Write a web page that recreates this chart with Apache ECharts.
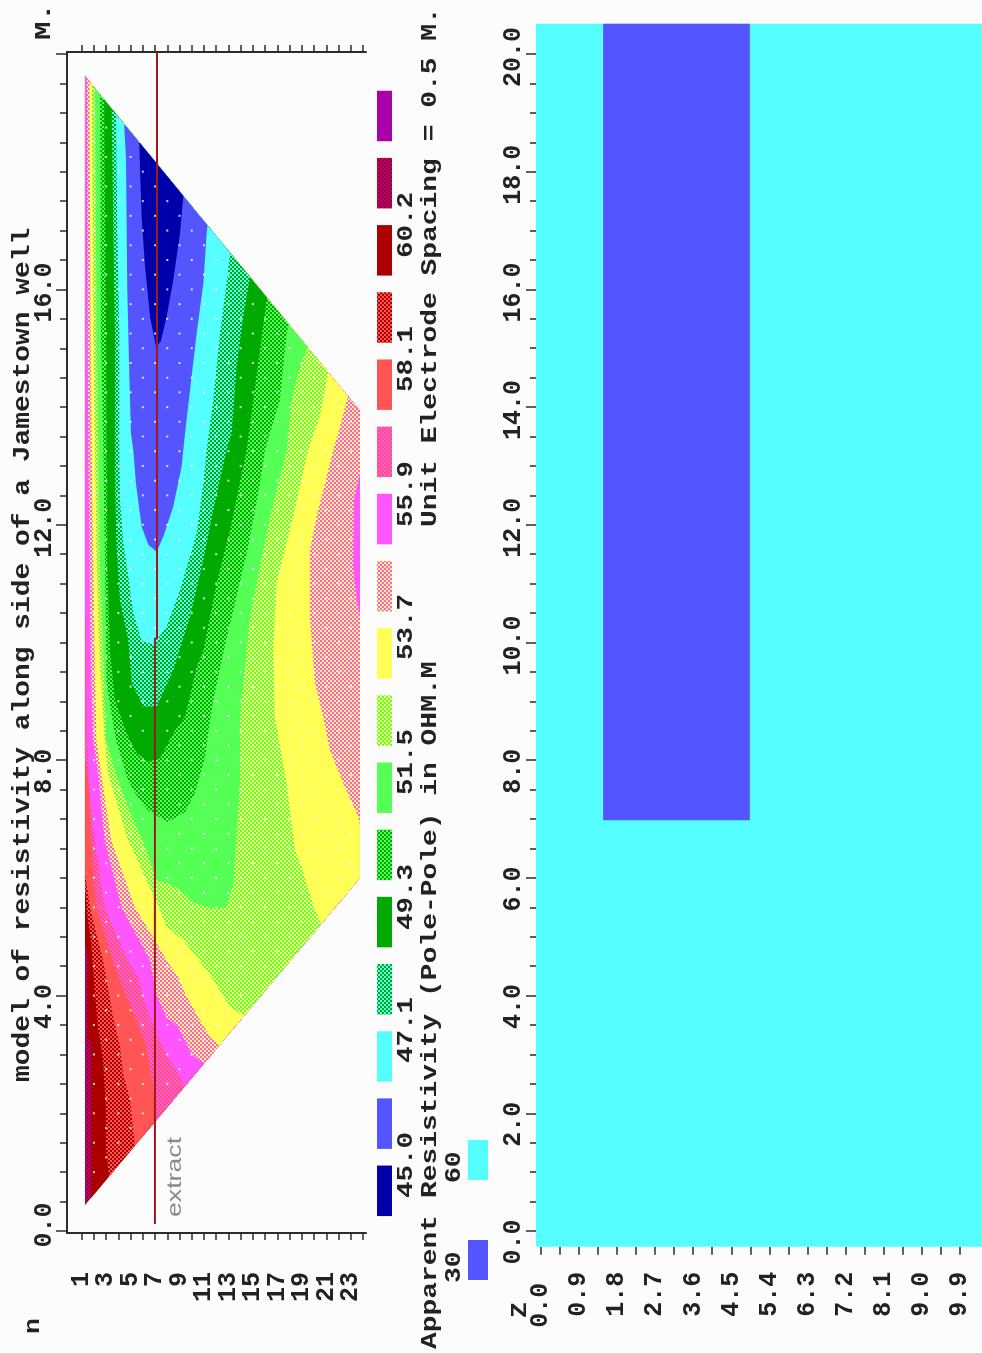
<!DOCTYPE html>
<html><head><meta charset="utf-8">
<style>html,body{margin:0;padding:0;background:#fcfcfc}#c{width:982px;height:1353px}</style>
<script src="https://cdn.jsdelivr.net/npm/echarts@6/dist/echarts.min.js"></script>
</head><body><div id="c"></div>
<script>
// ---------- axis values ----------
const nTicks = [1,2,3,4,5,6,7,8,9,10,11,12,13,14,15,16,17,18,19,20,21,22,23,24];
const nLabels = [1,3,5,7,9,11,13,15,17,19,21,23];
const distTicks = [0,.5,1,1.5,2,2.5,3,3.5,4,4.5,5,5.5,6,6.5,7,7.5,8,8.5,9,9.5,10,10.5,11,11.5,12,12.5,13,13.5,14,14.5,15,15.5,16,16.5,17,17.5,18,18.5,19,19.5,20];
const distLabelsTop = [0,4,8,12,16];
const distLongTop = [0,4,8,12,16,20];
const distLabelsBottom = [0,2,4,6,8,10,12,14,16,18,20];
const zTicks = [0,.45,.9,1.35,1.8,2.25,2.7,3.15,3.6,4.05,4.5,4.95,5.4,5.85,6.3,6.75,7.2,7.65,8.1,8.55,9,9.45,9.9];
const zLabels = [0,.9,1.8,2.7,3.6,4.5,5.4,6.3,7.2,8.1,9,9.9];
const legendValues = ['45.0','47.1','49.3','51.5','53.7','55.9','58.1','60.2'];
// ---------- section outline and contour bands: [n, distance in m] ----------
const domain = [[1.27,.44],[1.27,19.62],[23.75,13.94],[23.75,6.0]];
const closeLow = [[30,0],[30,21.5],[-3,21.5]];
const L1 = [[5.71,18.48],[5.90,17.24],[6.18,16.39],[6.59,15.54],[7.08,15.03],[7.46,15.11],[7.95,15.54],[8.49,16.16],[9.04,16.95],[9.31,17.58],[7.95,19.2]];
const L2 = [[4.46,18.85],[4.62,18.25],[4.73,15.99],[4.90,14.52],[5.03,13.55],[5.22,13.27],[5.44,12.70],[5.90,11.97],[6.45,11.66],[7.13,11.54],[7.68,11.80],[8.49,12.31],[9.17,12.99],[9.45,13.55],[9.99,14.52],[10.40,15.25],[10.95,16.10],[11.22,16.95],[11.35,17.20],[7.95,19.8]];
const L3 = [[3.81,19.0],[3.92,16.96],[4.08,15.25],[4.08,13.27],[4.13,12.42],[4.41,11.69],[4.81,11.12],[5.22,10.50],[5.90,10.04],[6.86,9.96],[7.95,10.27],[9.04,10.89],[10.40,11.85],[10.95,12.70],[11.22,13.27],[11.76,14.12],[12.31,15.25],[12.85,16.10],[13.18,16.70],[7.95,20.07]];
const L4 = [[3.45,19.15],[3.59,16.95],[3.72,15.25],[3.72,12.70],[3.86,11.59],[4.13,10.72],[4.81,10.04],[5.09,9.31],[6.04,8.91],[7.13,8.91],[8.49,9.53],[9.86,10.44],[10.95,11.40],[11.76,12.25],[12.85,13.27],[13.26,13.55],[13.67,14.69],[14.22,15.54],[14.81,16.28],[7.95,20.35]];
const L5 = [[2.83,19.3],[2.99,15.25],[3.04,13.27],[3.10,11.29],[3.32,9.87],[3.72,9.02],[4.68,8.46],[5.50,8.12],[6.45,7.98],[7.40,8.03],[8.49,8.46],[9.45,8.74],[10.40,9.59],[10.95,9.87],[12.04,11.01],[13.13,11.91],[14.49,13.27],[15.03,14.12],[15.58,14.97],[16.12,15.82],[16.45,15.96],[7.95,20.63]];
const L6 = [[2.50,19.45],[2.58,15.25],[2.77,13.27],[2.91,11.29],[3.04,9.31],[3.80,8.34],[4.38,7.95],[4.79,7.66],[5.60,7.37],[6.42,7.15],[8.06,6.95],[9.45,7.12],[10.26,7.44],[11.08,8.05],[11.35,8.46],[11.76,9.02],[12.58,9.82],[13.40,10.55],[14.62,11.63],[15.58,12.70],[15.99,13.27],[17.21,14.12],[17.76,15.25],[18.03,15.50],[7.95,20.92]];
const L7 = [[2.09,19.55],[2.23,15.25],[2.36,13.27],[2.50,11.29],[2.77,9.87],[2.99,8.34],[3.80,7.78],[4.79,7.20],[6.42,6.42],[7.07,5.96],[8.06,5.91],[9.12,5.79],[10.26,5.57],[11.90,5.47],[12.85,5.51],[13.40,5.91],[13.94,7.61],[13.94,8.74],[14.22,9.31],[14.76,10.44],[15.31,11.01],[16.40,12.14],[17.76,13.27],[18.17,14.12],[18.85,14.69],[19.61,15.10],[7.95,21.5]];
const L8 = [[1.82,19.6],[1.95,15.25],[2.09,13.27],[2.23,11.29],[2.50,9.59],[2.88,8.35],[3.15,7.78],[4.79,6.64],[7.30,5.51],[7.95,5.17],[9.31,4.94],[10.40,4.66],[11.76,4.27],[13.13,3.81],[14.35,3.64],[18.85,2.23],[21.57,3.93],[20.54,5.23],[19.80,5.62],[18.98,6.19],[18.44,6.47],[17.76,7.61],[16.80,8.74],[16.67,9.87],[16.94,11.01],[18.30,12.14],[19.53,13.27],[20.48,13.84],[21.22,14.65],[7.95,21.5]];
const L9 = [[1.63,19.65],[1.74,15.25],[1.82,13.27],[1.95,11.29],[2.09,9.59],[2.20,8.35],[2.60,7.78],[3.42,6.64],[5.33,5.51],[8.10,4.55],[8.87,4.32],[9.45,4.04],[10.51,3.64],[11.49,3.30],[12.50,3.10],[21.57,2.23],[29.75,5.06],[29.75,6.81],[23.83,6.81],[23.62,7.04],[22.39,7.61],[21.30,8.17],[20.75,8.74],[20.07,9.31],[19.66,10.44],[19.66,11.57],[20.21,12.14],[20.89,12.70],[21.57,13.27],[22.12,13.67],[22.85,14.25],[7.95,21.5]];
const L10 = [[1.41,19.7],[1.49,15.25],[1.54,13.27],[1.63,11.29],[1.74,9.59],[1.92,8.35],[2.33,7.78],[2.88,6.64],[4.24,5.51],[6.58,4.60],[7.07,4.04],[7.89,3.64],[8.87,3.47],[9.94,3.02],[11.08,2.82],[21.57,1.09],[29.75,5.06],[29.75,10.33],[23.89,10.33],[23.48,10.72],[23.21,11.29],[23.26,12.42],[23.89,12.99],[29.75,12.99],[29.75,21.5],[7.95,21.5]];
const L11 = [[-2.95,11.57],[1.35,10.44],[1.45,8.46],[1.55,7.70],[2.06,6.64],[2.88,5.51],[3.90,5.00],[4.79,4.60],[5.60,4.32],[6.18,3.87],[6.99,3.42],[7.89,3.02],[8.87,2.68],[9.60,2.40]];
const L12 = [[-2.95,8.30],[1.27,8.00],[1.51,7.78],[1.78,6.64],[2.19,5.51],[3.70,4.49],[4.54,4.04],[5.36,3.64],[6.26,3.14],[6.58,2.74],[6.83,2.45],[7.10,1.80]];
const L13 = [[-2.95,6.30],[1.27,6.08],[1.68,5.51],[2.33,4.94],[2.74,4.60],[2.99,4.32],[3.56,3.64],[4.13,3.14],[4.38,2.68],[4.95,2.23],[5.19,1.77],[5.45,1.25]];
const L14 = [[-2.95,5.90],[1.30,5.75],[1.51,5.28],[1.76,4.94],[1.92,4.49],[2.09,4.04],[2.33,3.47],[2.74,2.91],[2.99,2.06],[2.99,1.43],[3.15,1.09],[3.35,.75]];
const L15 = [[-2.95,4.85],[1.30,4.85],[1.50,4.70],[1.50,3.30],[1.78,3.20],[1.78,.40]];
// measurement points: [n, first distance, last distance]
const pointRows = [[2,1,19],[3,1.25,18.75],[4,1.5,18.5],[5,1.75,18.25],[6,2,18],[7,2.25,17.75],[8,2.5,17.5],[9,2.75,17.25],[10,3,17],[11,3.25,16.75],[12,3.5,16.5],[13,3.75,16.25],[14,4,16],[15,4.25,15.75],[16,4.5,15.5],[17,4.75,15.25],[18,5,15],[19,5.25,14.75],[20,5.5,14.5],[21,5.75,14.25],[22,6,14],[23,6.25,13.75]];
const extractLine = [[6.99,.12],[6.99,10.07],[7.16,10.07],[7.16,20.03]];
// model blocks: [z from, z to, distance from, distance to, resistivity]
const modelBlocks = [[-.12,10.43,-.27,20.52,60],[1.47,4.94,6.98,20.52,30]];
const modelColors = {30:'#5555ff',60:'#55ffff'};
const legendSlots = [0,1,2,3,4,5,6,7,8,9,10,11,12,13,14,15,16];

const NAVY='#0000aa',BLUE='#5555ff',CYAN='#55ffff',GREEN='#00aa00',LGREEN='#55ff55',YELLOW='#ffff55',MAGENTA='#ff55ff',RED='#ff5555',DRED='#aa0000',PURPLE='#aa00aa';
function hatch(a,b){
  const s=2,c=document.createElement('canvas');c.width=c.height=2*s;
  const g=c.getContext('2d');g.fillStyle=a;g.fillRect(0,0,2*s,2*s);
  g.fillStyle=b;g.fillRect(0,0,s,s);g.fillRect(s,s,s,s);
  return {image:c,repeat:'repeat'};
}
const bandFill=[NAVY,BLUE,CYAN,hatch(GREEN,CYAN),GREEN,hatch(GREEN,LGREEN),LGREEN,hatch(LGREEN,YELLOW),YELLOW,hatch(YELLOW,MAGENTA),MAGENTA,hatch(MAGENTA,RED),RED,hatch(RED,DRED),DRED,hatch(DRED,PURPLE),PURPLE];

function clip(poly){
  let out=poly;
  for(let i=0;i<domain.length;i++){
    const a=domain[i],b=domain[(i+1)%domain.length],res=[];
    const side=p=>(b[0]-a[0])*(p[1]-a[1])-(b[1]-a[1])*(p[0]-a[0]);
    for(let j=0;j<out.length;j++){
      const p=out[j],q=out[(j+1)%out.length],sp=side(p),sq=side(q);
      if(sp<=0)res.push(p);
      if((sp<0&&sq>0)||(sp>0&&sq<0)){const t=sp/(sp-sq);res.push([p[0]+t*(q[0]-p[0]),p[1]+t*(q[1]-p[1])]);}
    }
    out=res;
  }
  return out;
}
const regions=[
 {fill:bandFill[15],pts:domain},
 {fill:bandFill[14],pts:L15.concat(closeLow)},
 {fill:bandFill[13],pts:L14.concat(closeLow)},
 {fill:bandFill[12],pts:L13.concat(closeLow)},
 {fill:bandFill[11],pts:L12.concat(closeLow)},
 {fill:bandFill[10],pts:L11.concat(closeLow)},
 {fill:bandFill[9],pts:L10},{fill:bandFill[8],pts:L9},{fill:bandFill[7],pts:L8},
 {fill:bandFill[6],pts:L7},{fill:bandFill[5],pts:L6},{fill:bandFill[4],pts:L5},
 {fill:bandFill[3],pts:L4},{fill:bandFill[2],pts:L3},{fill:bandFill[1],pts:L2},{fill:bandFill[0],pts:L1}
].map(r=>({fill:r.fill,pts:clip(r.pts)}));

const points=[];
pointRows.forEach(r=>{for(let d=r[1];d<=r[2]+1e-6;d+=.5)points.push([r[0],d]);});

const INK='#2b2b2b',MONO='"Liberation Mono","DejaVu Sans Mono",monospace';
const labelFont={fontFamily:MONO,fontWeight:'bold',fontSize:25,lineHeight:16,color:'#222'};
function richSet(){return {
  shift:Object.assign({},labelFont,{padding:[0,22,0,0]}),
  shift4:Object.assign({},labelFont,{padding:[0,6,0,0]}),
  back:Object.assign({},labelFont,{padding:[0,0,0,12]}),
  plain:Object.assign({},labelFont),
  low:Object.assign({},labelFont,{padding:[0,11,0,0]})
};}
function vtext(t,x,y,size,sx,extra){
  return Object.assign({type:'text',x:x,y:y,rotation:Math.PI/2,scaleX:sx,silent:true,z:20,
    style:{text:t,font:'bold '+size+'px '+MONO,fill:'#222',align:'left',verticalAlign:'middle'}},extra||{});
}
const legendStart=[1198,1063,930,795,660,527,392,258];
const graphics=[
  vtext('model of resistivity along side of a Jamestown well',23,1082,24,1.163),
  vtext('M.',44,40,22,1.4),
  vtext('n',33,1334,22,1.2),
  vtext('Apparent Resistivity (Pole-Pole) in OHM.M',430,1349,22,1.27),
  vtext('Unit Electrode Spacing = 0.5 M.',430,527,22,1.27),
  vtext('30',454,1283,22,1.2),
  vtext('60',454,1183,22,1.2),
  vtext('Z',520,1318,22,1.2),
  {type:'rect',z:20,silent:true,shape:{x:468,y:1240,width:20,height:40},style:{fill:modelColors[30]}},
  {type:'rect',z:20,silent:true,shape:{x:468,y:1140,width:20,height:40},style:{fill:modelColors[60]}},
  {type:'text',x:175,y:1217,rotation:Math.PI/2,scaleX:1.27,silent:true,z:20,
    style:{text:'extract',font:'21px "Liberation Sans",sans-serif',fill:'#8a8a8a',align:'left',verticalAlign:'middle'}}
];
legendValues.forEach((v,i)=>graphics.push(vtext(v,406,legendStart[i],22,1.25)));

const yCommon={type:'value',gridIndex:0,min:-.034,max:20.034,splitLine:{show:false}};
const nMin=-.2,nMax=24.25;
const option={
  animation:false,backgroundColor:'#fcfcfc',
  grid:[
    {left:67,top:52,width:299,height:1181},
    {left:536,top:23.5,width:446,height:1223.2},
    {left:377,top:82.4,width:15,height:1142}
  ],
  xAxis:[
    {type:'value',gridIndex:0,position:'bottom',min:nMin,max:nMax,splitLine:{show:false},
     axisLine:{onZero:false,lineStyle:{color:INK,width:2}},
     axisTick:{customValues:nTicks,length:7,lineStyle:{color:INK,width:1.5}},
     axisLabel:Object.assign({customValues:[nMin].concat(nLabels,[nMax]),rotate:90,margin:39,showMinLabel:false,showMaxLabel:false,hideOverlap:false,
       formatter:v=>nLabels.indexOf(v)>=0?String(v):''},labelFont)},
    {type:'value',gridIndex:0,position:'top',min:nMin,max:nMax,splitLine:{show:false},
     axisLine:{onZero:false,lineStyle:{color:INK,width:2}},
     axisTick:{customValues:nTicks,length:7,lineStyle:{color:INK,width:1.5}},
     axisLabel:{show:false}},
    {type:'value',gridIndex:1,position:'bottom',min:-.118,max:10.43,splitLine:{show:false},
     axisLine:{show:false,onZero:false},
     axisTick:{show:true,customValues:zTicks,length:8,lineStyle:{color:INK,width:1.5}},
     axisLabel:{customValues:zLabels,rotate:90,margin:25,showMinLabel:true,showMaxLabel:true,rich:richSet(),
       formatter:v=>v===0?'{low|0.0}':'{plain|'+v.toFixed(1)+'}'}},
    {type:'value',gridIndex:2,show:false,min:0,max:1}
  ],
  yAxis:[
    Object.assign({},yCommon,{position:'left',
     axisLine:{show:true,onZero:false,lineStyle:{color:INK,width:2}},
     axisTick:{show:true,customValues:distTicks,length:7,lineStyle:{color:INK,width:1.5}},
     axisLabel:{show:false}}),
    Object.assign({},yCommon,{position:'left',
     axisLine:{show:false,onZero:false},
     axisTick:{show:true,customValues:distLongTop,length:11,lineStyle:{color:INK,width:1.5}},
     axisLabel:{customValues:distLabelsTop,rotate:90,margin:14,showMinLabel:true,showMaxLabel:true,rich:richSet(),
       formatter:v=>v===0?'{back|0.0}':(v>=10?'{shift4|':'{shift|')+v.toFixed(1)+'}'}}),
    {type:'value',gridIndex:1,position:'left',min:-.267,max:20.518,splitLine:{show:false},
     axisLine:{show:false,onZero:false},
     axisTick:{show:true,customValues:distTicks,length:6,lineStyle:{color:INK,width:1.5}},
     axisLabel:{show:false}},
    {type:'value',gridIndex:1,position:'left',min:-.267,max:20.518,splitLine:{show:false},
     axisLine:{show:false,onZero:false},
     axisTick:{show:true,customValues:distLabelsBottom,length:10,lineStyle:{color:INK,width:1.5}},
     axisLabel:{customValues:distLabelsBottom,rotate:90,margin:14,showMinLabel:true,showMaxLabel:true,rich:richSet(),
       formatter:v=>(v>=10?'{shift4|':'{shift|')+v.toFixed(1)+'}'}},
    {type:'category',gridIndex:2,show:false,data:legendSlots}
  ],
  graphic:{elements:graphics},
  series:[
    {type:'custom',name:'model',xAxisIndex:2,yAxisIndex:2,silent:true,clip:true,
     data:modelBlocks.map(b=>[b[0],b[2],b[1],b[3],b[4]]),
     renderItem:(p,api)=>{
       const a=api.coord([api.value(0),api.value(1)]),b=api.coord([api.value(2),api.value(3)]);
       return {type:'rect',shape:{x:a[0],y:b[1],width:b[0]-a[0],height:a[1]-b[1]},style:{fill:modelColors[api.value(4)]}};
     }},
    {type:'custom',name:'contours',xAxisIndex:0,yAxisIndex:0,silent:true,z:2,
     data:regions.map((r,i)=>[r.pts[0][0],r.pts[0][1],i]),
     renderItem:(p,api)=>{
       const r=regions[p.dataIndex];
       return {type:'polygon',shape:{points:r.pts.map(q=>api.coord(q))},style:{fill:r.fill}};
     }},
    {type:'scatter',name:'points',xAxisIndex:0,yAxisIndex:0,silent:true,z:3,symbol:'rect',symbolSize:2,
     itemStyle:{color:'#fff'},data:points},
    {type:'line',name:'extract',xAxisIndex:0,yAxisIndex:0,silent:true,z:4,showSymbol:false,
     lineStyle:{color:'#a01818',width:2},data:extractLine},
    {type:'bar',name:'scale',xAxisIndex:3,yAxisIndex:4,silent:true,barWidth:50.5,
     data:legendSlots.map(i=>({value:1,itemStyle:{color:bandFill[i]}}))}
  ]
};
echarts.init(document.getElementById('c'),null,{renderer:'canvas'}).setOption(option);
</script></body></html>
